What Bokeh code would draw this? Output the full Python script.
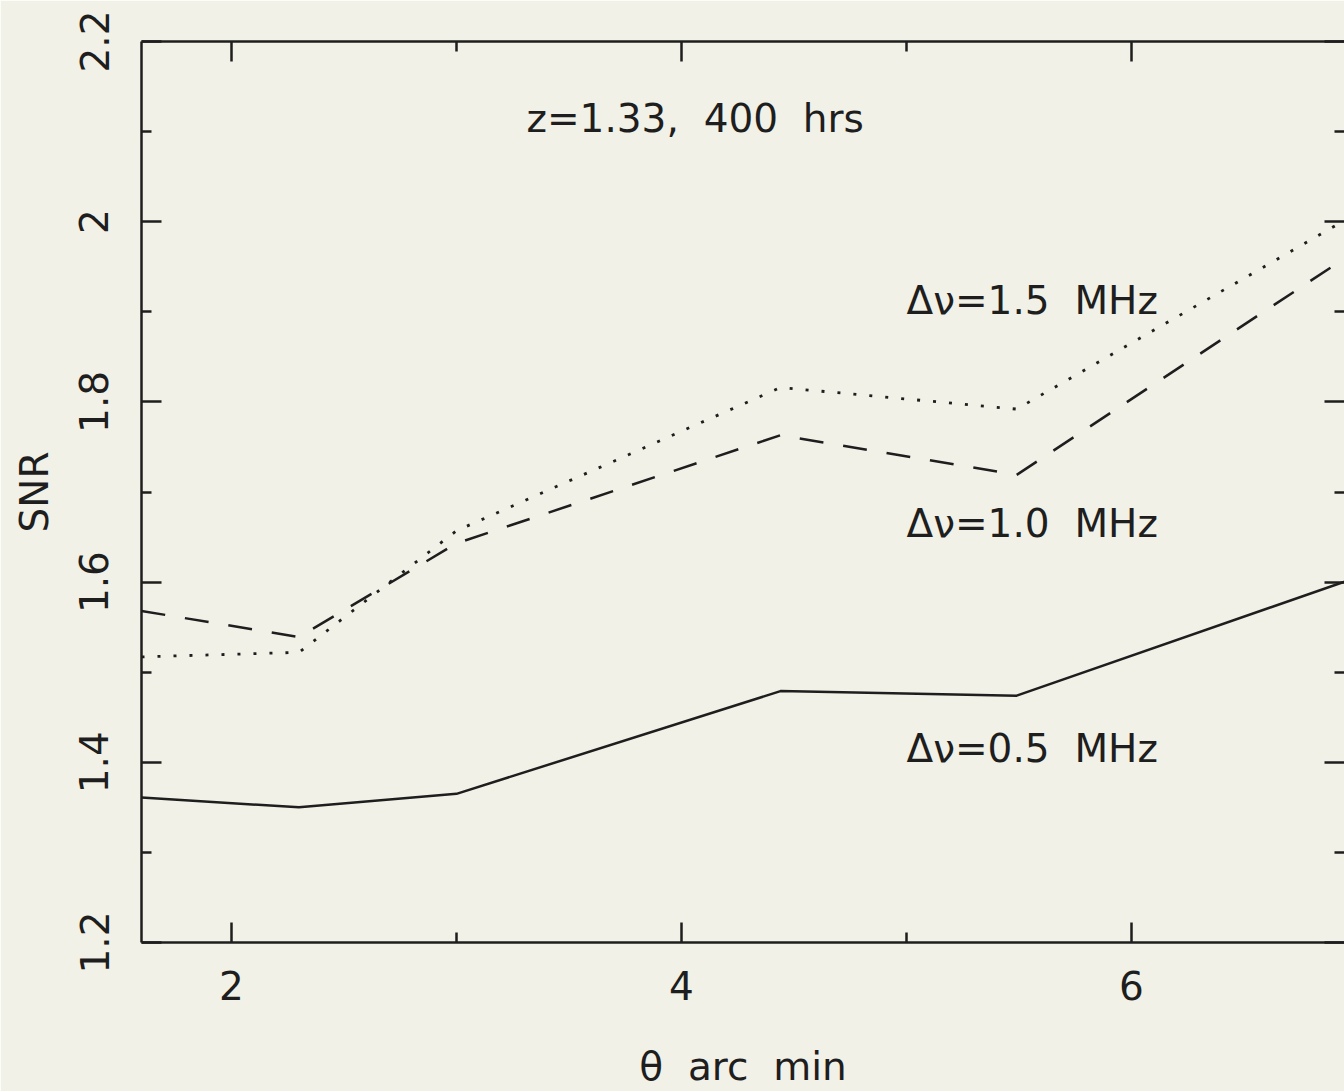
from bokeh.plotting import figure
from bokeh.models import Range1d, FixedTicker, LinearAxis, Label, CustomJSTickFormatter
from bokeh.embed import file_html
from bokeh.resources import INLINE

# ---- data ----
theta = [1.6, 2.3, 3.0, 4.44, 5.49, 7.0]
snr_05 = [1.361, 1.350, 1.365, 1.479, 1.474, 1.605]
snr_10 = [1.568, 1.539, 1.643, 1.763, 1.719, 1.968]
snr_15 = [1.517, 1.522, 1.657, 1.816, 1.792, 2.009]

x_ticks = [2, 4, 6]
x_minor = [1, 3, 5, 7]
y_ticks = [1.2, 1.4, 1.6, 1.8, 2.0, 2.2]
y_tick_labels = ["1.2", "1.4", "1.6", "1.8", "2", "2.2"]
y_minor = [1.3, 1.5, 1.7, 1.9, 2.1]

SP = "\u00a0\u00a0"
title_text = "z=1.33," + SP + "400" + SP + "hrs"
series_labels = ["\u0394\u03bd=0.5" + SP + "MHz",
                 "\u0394\u03bd=1.0" + SP + "MHz",
                 "\u0394\u03bd=1.5" + SP + "MHz"]
x_label = "\u03b8" + SP + "arc" + SP + "min"
y_label = "SNR"

# ---- styling ----
BG = "#f2f1e7"
INK = "#1e1e1e"
FONT = "DejaVu Sans"
FS = "39px"

p = figure(width=1344, height=1091, output_backend="svg", toolbar_location=None,
           x_range=Range1d(1.6, 6.947), y_range=Range1d(1.2, 2.2),
           min_border_left=141, min_border_right=0, min_border_top=41, min_border_bottom=149,
           background_fill_color=BG, border_fill_color=BG)
p.grid.visible = False
p.outline_line_color = None

def style_axis(ax, ticks, minor, show_labels, show_line=True):
    ax.ticker = FixedTicker(ticks=ticks, minor_ticks=minor)
    ax.axis_line_color = INK if show_line else None
    ax.axis_line_width = 2.5
    ax.major_tick_line_color = INK
    ax.major_tick_line_width = 2.5
    ax.minor_tick_line_color = INK
    ax.minor_tick_line_width = 2.5
    ax.major_tick_in = 20
    ax.major_tick_out = 0
    ax.minor_tick_in = 10
    ax.minor_tick_out = 0
    if show_labels:
        ax.major_label_text_font = FONT
        ax.major_label_text_font_size = FS
        ax.major_label_text_color = INK
        ax.axis_label_text_font = FONT
        ax.axis_label_text_font_size = FS
        ax.axis_label_text_font_style = "normal"
        ax.axis_label_text_color = INK
    else:
        ax.formatter = CustomJSTickFormatter(code="return '';")
        ax.major_label_standoff = 0

xa = p.xaxis[0]
style_axis(xa, x_ticks, x_minor, True)
xa.axis_label = x_label
xa.major_label_standoff = 28
xa.axis_label_standoff = 41

ya = p.yaxis[0]
style_axis(ya, y_ticks, y_minor, True)
ya.major_label_overrides = {t: s for t, s in zip(y_ticks, y_tick_labels)}
ya.major_label_orientation = "parallel"
ya.axis_label = y_label
ya.major_label_standoff = 33
ya.axis_label_standoff = 20

top = LinearAxis()
style_axis(top, x_ticks, x_minor, False)
p.add_layout(top, "above")
right = LinearAxis()
style_axis(right, y_ticks, y_minor, False, show_line=False)
p.add_layout(right, "right")

# ---- curves ----
p.line(theta, snr_05, line_color=INK, line_width=2.5)
p.line(theta, snr_10, line_color=INK, line_width=2.5, line_dash="24 20")
p.line(theta, snr_15, line_color=INK, line_width=2.8, line_dash="3 13")

# ---- annotations ----
p.add_layout(Label(x=3.311, y=2.1145, text=title_text, text_font=FONT, text_font_size=FS,
                   text_color=INK, text_baseline="middle", text_align="left"))
label_x = 5.0
label_y = [1.415, 1.665, 1.9125]
for ly, txt in zip(label_y, series_labels):
    p.add_layout(Label(x=label_x, y=ly, text=txt, text_font=FONT, text_font_size=FS,
                       text_color=INK, text_baseline="middle", text_align="left"))

open("out.html", "w").write(file_html(p, INLINE))
